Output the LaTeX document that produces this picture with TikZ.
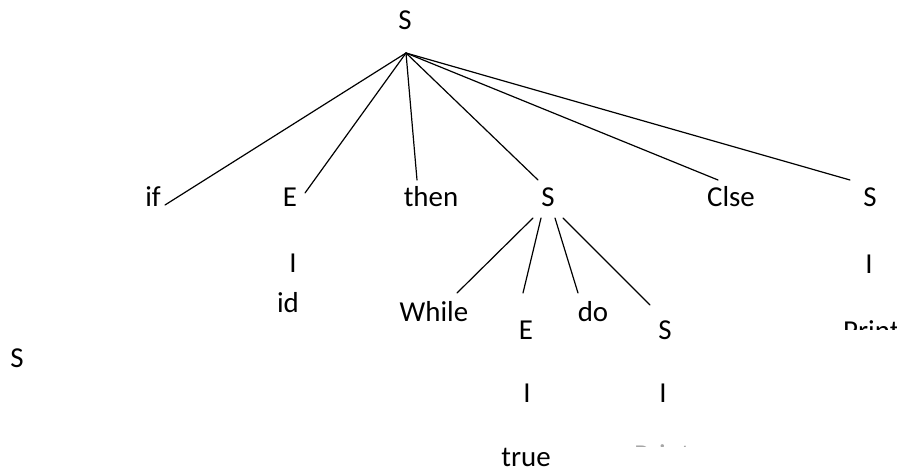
\documentclass[tikz,border=0pt]{standalone}
\usepackage{fontspec}
\setmainfont{Carlito}
\begin{document}
\begin{tikzpicture}[x=1bp,y=-1bp,
  lbl/.style={inner sep=0pt,anchor=base,font=\fontsize{29}{29}\selectfont},
  edge/.style={line width=1.2bp,line cap=round}]
\useasboundingbox (0,0) rectangle (897,470);
% labels
\node[lbl] (top) at (405,30) {S};
\node[lbl] (if) at (153,207) {if};
\node[lbl] (e1) at (290,207) {E};
\node[lbl] (then) at (431,207) {then};
\node[lbl] (s1) at (548,207) {S};
\node[lbl] (clse) at (731,207) {Clse};
\node[lbl] (s2) at (870,207) {S};
\node[lbl] (bar1) at (293,273) {I};
\node[lbl] (id) at (288,313) {id};
\node[lbl] (while) at (434,322) {While};
\node[lbl] (e2) at (526,340) {E};
\node[lbl] (do) at (593,322) {do};
\node[lbl] (s3) at (665,340) {S};
\node[lbl] (bar2) at (869,274) {I};
\begin{scope}
  \clip (830,300) rectangle (897,330);
  \node[lbl,anchor=base west] (print1) at (843,341) {Print};
\end{scope}
\node[lbl] (sl) at (17,368) {S};
\node[lbl] (bar3) at (527,402) {I};
\node[lbl] (bar4) at (663,402) {I};
\node[lbl,text depth=0pt] (true) at (526,466) {true};
\begin{scope}
  \clip (600,430) rectangle (700,446);
  \node[lbl,anchor=base west,text=black!35] (print2) at (634,464.5) {Print};
\end{scope}
% connector points
\coordinate (apex) at (406,53);
\coordinate (cif) at (165,205);
\coordinate (ce1) at (305,193);
\coordinate (cthen) at (417,180);
\coordinate (cs1) at (538,180);
\coordinate (cclse) at (718,180);
\coordinate (cs2) at (850,180);
\coordinate (a1) at (533,218);
\coordinate (a2) at (541,218);
\coordinate (a3) at (555,218);
\coordinate (a4) at (563,218);
\coordinate (cwhile) at (457,293);
\coordinate (ce2) at (523,293);
\coordinate (cdo) at (578,293);
\coordinate (cs3) at (650,305);
\foreach \t in {cif,ce1,cthen,cs1,cclse,cs2} \draw[edge] (apex) -- (\t);
\draw[edge] (a1) -- (cwhile);
\draw[edge] (a2) -- (ce2);
\draw[edge] (a3) -- (cdo);
\draw[edge] (a4) -- (cs3);
\end{tikzpicture}
\end{document}
